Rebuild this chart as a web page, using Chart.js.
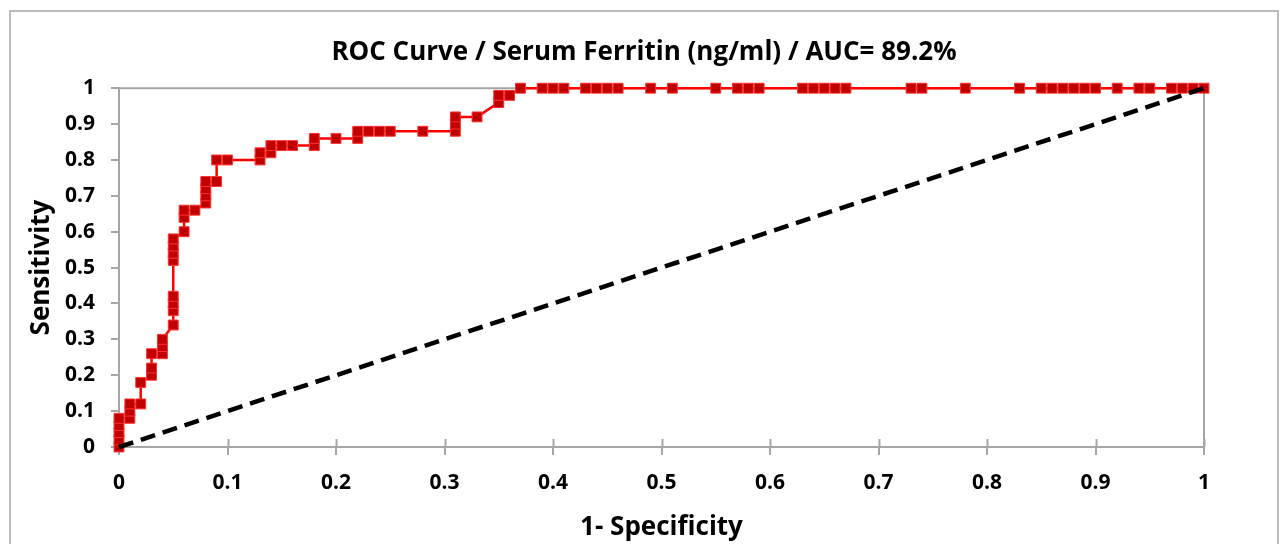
<!DOCTYPE html>
<html>
<head>
<meta charset="utf-8">
<script src="https://cdn.jsdelivr.net/npm/chart.js@4"></script>
<style>
  html, body { margin: 0; padding: 0; background: #fff; }
  #wrap { width: 1288px; height: 544px; }
</style>
</head>
<body>
<div id="wrap"><canvas id="roc"></canvas></div>
<script>
// ROC points (1 - specificity, sensitivity)
const fpr = [0, 0, 0, 0, 0,
  0.01, 0.01, 0.01,
  0.02, 0.02,
  0.03, 0.03, 0.03,
  0.04, 0.04, 0.04,
  0.05, 0.05, 0.05, 0.05, 0.05, 0.05, 0.05, 0.05,
  0.06, 0.06, 0.06,
  0.07,
  0.08, 0.08, 0.08, 0.08,
  0.09, 0.09,
  0.10,
  0.13, 0.13,
  0.14, 0.14,
  0.15, 0.16,
  0.18, 0.18,
  0.20,
  0.22, 0.22,
  0.23, 0.24, 0.25, 0.28,
  0.31, 0.31, 0.31,
  0.33,
  0.35, 0.35,
  0.36,
  0.37, 0.39, 0.40, 0.41, 0.43, 0.44, 0.45, 0.46, 0.49, 0.51, 0.55, 0.57, 0.58, 0.59,
  0.63, 0.64, 0.65, 0.66, 0.67, 0.73, 0.74, 0.78, 0.83, 0.85, 0.86, 0.87, 0.88, 0.89,
  0.90, 0.92, 0.94, 0.95, 0.97, 0.98, 0.99, 1.0];
const tpr = [0, 0.02, 0.04, 0.06, 0.08,
  0.08, 0.10, 0.12,
  0.12, 0.18,
  0.20, 0.22, 0.26,
  0.26, 0.28, 0.30,
  0.34, 0.38, 0.40, 0.42, 0.52, 0.54, 0.56, 0.58,
  0.60, 0.64, 0.66,
  0.66,
  0.68, 0.70, 0.72, 0.74,
  0.74, 0.80,
  0.80,
  0.80, 0.82,
  0.82, 0.84,
  0.84, 0.84,
  0.84, 0.86,
  0.86,
  0.86, 0.88,
  0.88, 0.88, 0.88, 0.88,
  0.88, 0.90, 0.92,
  0.92,
  0.96, 0.98,
  0.98,
  1, 1, 1, 1, 1, 1, 1, 1, 1, 1, 1, 1, 1, 1,
  1, 1, 1, 1, 1, 1, 1, 1, 1, 1, 1, 1, 1, 1,
  1, 1, 1, 1, 1, 1, 1, 1];
const refX = [0, 1];
const refY = [0, 1];
const tickValues = [0, 0.1, 0.2, 0.3, 0.4, 0.5, 0.6, 0.7, 0.8, 0.9, 1];
const titleText = 'ROC Curve / Serum Ferritin (ng/ml) / AUC= 89.2%';

const FONT = "'Open Sans', 'DejaVu Sans', sans-serif";
const GRAY = '#a6a6a6';

// outer frame + plot box + inner half of the x ticks
const framePlugin = {
  id: 'frame',
  beforeDraw(chart) {
    const ctx = chart.ctx;
    ctx.save();
    ctx.strokeStyle = GRAY;
    ctx.lineWidth = 1.5;
    ctx.strokeRect(10, 11, 1268, 560);
    ctx.restore();
  },
  beforeDatasetsDraw(chart) {
    const ctx = chart.ctx;
    const a = chart.chartArea;
    ctx.save();
    ctx.strokeStyle = GRAY;
    ctx.lineWidth = 2;
    ctx.beginPath();
    ctx.moveTo(a.left, a.top);
    ctx.lineTo(a.right, a.top);
    ctx.lineTo(a.right, a.bottom);
    ctx.stroke();
    const xs = chart.scales.x;
    xs.ticks.forEach((t) => {
      const px = Math.round(xs.getPixelForValue(t.value)) + 0.5;
      ctx.beginPath();
      ctx.moveTo(px, a.bottom - 8);
      ctx.lineTo(px, a.bottom);
      ctx.stroke();
    });
    ctx.restore();
  }
};

new Chart(document.getElementById('roc'), {
  type: 'scatter',
  data: {
    datasets: [
      {
        label: 'ROC',
        data: fpr.map((x, i) => ({ x: x, y: tpr[i] })),
        showLine: true,
        clip: false,
        borderColor: '#ff0000',
        borderWidth: 2.5,
        pointStyle: 'rect',
        pointRadius: 7,
        pointBackgroundColor: '#c00000',
        pointBorderColor: '#ff3030',
        pointBorderWidth: 1,
        order: 2
      },
      {
        label: 'Reference',
        data: refX.map((x, i) => ({ x: x, y: refY[i] })),
        showLine: true,
        clip: false,
        borderColor: '#000000',
        borderWidth: 4.5,
        borderDash: [15, 8],
        pointRadius: 0,
        order: 1
      }
    ]
  },
  plugins: [framePlugin],
  options: {
    responsive: true,
    maintainAspectRatio: false,
    animation: false,
    layout: { padding: 0 },
    plugins: {
      legend: { display: false },
      tooltip: { enabled: false },
      title: {
        display: true,
        text: titleText,
        color: '#000',
        font: { family: FONT, size: 26, weight: 'bold' },
        padding: { top: 37, bottom: 20 }
      }
    },
    scales: {
      x: {
        type: 'linear',
        min: 0,
        max: 1,
        afterFit(scale) { scale.height = 97; },
        afterBuildTicks(scale) {
          scale.ticks = tickValues.map((v) => ({ value: v }));
        },
        grid: { drawOnChartArea: false, drawTicks: true, tickLength: 8, color: GRAY, lineWidth: 2 },
        border: { color: GRAY, width: 2 },
        ticks: {
          color: '#000',
          padding: 15,
          font: { family: FONT, size: 21, weight: 'bold' },
          callback: (v) => String(Math.round(v * 10) / 10)
        },
        title: {
          display: true,
          text: '1- Specificity',
          color: '#000',
          font: { family: FONT, size: 26, weight: 'bold' },
          padding: { top: 0, bottom: 1 }
        }
      },
      y: {
        type: 'linear',
        min: 0,
        max: 1,
        afterFit(scale) { scale.width = 119; },
        afterBuildTicks(scale) {
          scale.ticks = tickValues.map((v) => ({ value: v }));
        },
        grid: { drawOnChartArea: false, drawTicks: true, tickLength: 8, color: GRAY, lineWidth: 2 },
        border: { color: GRAY, width: 2 },
        ticks: {
          color: '#000',
          padding: 16,
          font: { family: FONT, size: 21, weight: 'bold' },
          callback: (v) => String(Math.round(v * 10) / 10)
        },
        title: {
          display: true,
          text: 'Sensitivity',
          color: '#000',
          font: { family: FONT, size: 26, weight: 'bold' },
          padding: { top: 26, bottom: 0 }
        }
      },
      // empty right-hand axis, only reserves the blank margin right of the plot
      yRight: {
        type: 'linear',
        position: 'right',
        min: 0,
        max: 1,
        afterFit(scale) { scale.width = 84; },
        grid: { display: false },
        border: { display: false },
        ticks: { display: false }
      }
    }
  }
});
</script>
</body>
</html>
